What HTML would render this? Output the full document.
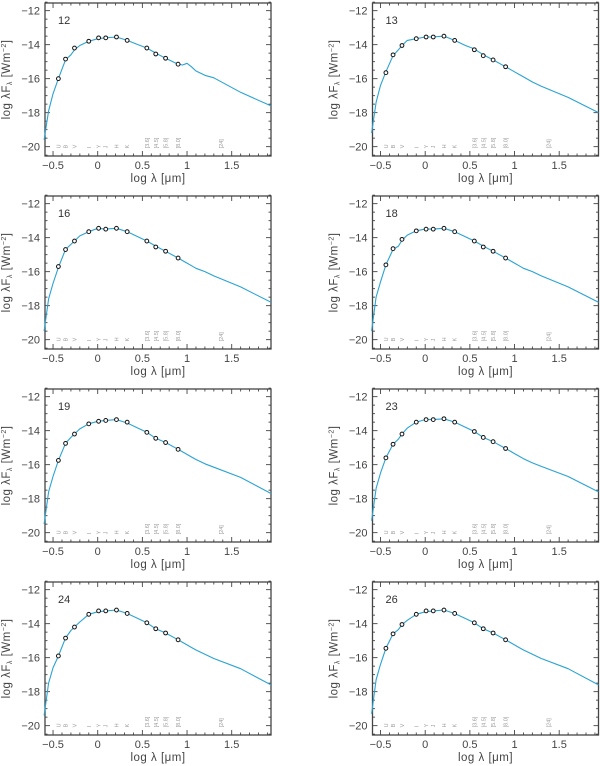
<!DOCTYPE html>
<html><head><meta charset="utf-8"><style>
html,body{margin:0;padding:0;background:#fff;width:600px;height:766px;overflow:hidden}
svg text{font-family:"Liberation Sans",sans-serif}
</style></head><body>
<svg id="fig" width="600" height="766" viewBox="0 0 600 766" xmlns="http://www.w3.org/2000/svg"></svg>
<script>
const panelIds = ["12","13","16","18","19","23","24","26"];
const photX = [-0.44,-0.36,-0.26,-0.1,0.01,0.09,0.21,0.33,0.55,0.65,0.76,0.9];
const phot12 = [-16.0,-14.85,-14.2,-13.8,-13.6,-13.6,-13.55,-13.75,-14.2,-14.55,-14.8,-15.15];
const phot13 = [-15.65,-14.6,-14.05,-13.65,-13.55,-13.55,-13.5,-13.75,-14.3,-14.65,-14.9,-15.3];
const phot16 = [-15.7,-14.7,-14.2,-13.65,-13.45,-13.5,-13.45,-13.65,-14.2,-14.55,-14.8,-15.2];
const phot18 = [-15.6,-14.65,-14.1,-13.6,-13.5,-13.5,-13.45,-13.65,-14.2,-14.55,-14.8,-15.2];
const phot19 = [-15.75,-14.75,-14.2,-13.6,-13.45,-13.4,-13.35,-13.5,-14.1,-14.45,-14.7,-15.1];
const phot23 = [-15.6,-14.8,-14.2,-13.5,-13.35,-13.35,-13.3,-13.5,-14.05,-14.4,-14.65,-15.05];
const phot24 = [-15.9,-14.85,-14.2,-13.45,-13.25,-13.25,-13.2,-13.4,-13.95,-14.3,-14.55,-14.95];
const phot26 = [-15.45,-14.6,-14.05,-13.45,-13.25,-13.25,-13.2,-13.4,-13.95,-14.3,-14.55,-14.95];
const modelX = [-0.6,-0.55,-0.5,-0.44,-0.36,-0.3,-0.26,-0.2,-0.1,0,0.09,0.21,0.33,0.45,0.55,0.65,0.76,0.9,0.95,1.0,1.05,1.1,1.2,1.3,1.6,1.94];
const model12 = [-19.6,-17.9,-16.9,-16.0,-14.9,-14.6,-14.3,-14.05,-13.8,-13.65,-13.6,-13.55,-13.75,-14.0,-14.2,-14.5,-14.8,-15.15,-15.2,-15.1,-15.3,-15.55,-15.8,-15.95,-16.8,-17.6];
const model13 = [-19.2,-17.4,-16.4,-15.6,-14.65,-14.3,-14.05,-13.75,-13.65,-13.55,-13.55,-13.5,-13.75,-14.05,-14.25,-14.6,-14.9,-15.3,-15.45,-15.6,-15.75,-15.9,-16.2,-16.45,-17.1,-18.0];
const model16 = [-19.5,-17.6,-16.7,-15.75,-14.7,-14.4,-14.2,-13.9,-13.65,-13.45,-13.5,-13.45,-13.65,-13.95,-14.2,-14.5,-14.8,-15.2,-15.35,-15.5,-15.65,-15.8,-16.0,-16.25,-16.9,-17.8];
const model18 = [-19.5,-17.5,-16.6,-15.6,-14.7,-14.5,-14.15,-13.85,-13.6,-13.5,-13.5,-13.45,-13.65,-13.95,-14.2,-14.5,-14.8,-15.2,-15.35,-15.5,-15.65,-15.8,-16.0,-16.25,-16.9,-17.8];
const model19 = [-19.5,-17.6,-16.7,-15.75,-14.75,-14.4,-14.2,-13.9,-13.6,-13.45,-13.4,-13.35,-13.55,-13.85,-14.1,-14.45,-14.7,-15.1,-15.25,-15.4,-15.55,-15.7,-15.95,-16.15,-16.75,-17.7];
const model23 = [-19.3,-17.4,-16.5,-15.6,-14.8,-14.5,-14.2,-13.85,-13.5,-13.35,-13.35,-13.3,-13.5,-13.8,-14.05,-14.4,-14.65,-15.05,-15.2,-15.35,-15.5,-15.65,-15.9,-16.1,-16.7,-17.6];
const model24 = [-19.4,-17.5,-16.6,-15.9,-14.85,-14.4,-14.2,-13.9,-13.45,-13.3,-13.25,-13.2,-13.4,-13.7,-13.95,-14.3,-14.55,-14.95,-15.1,-15.25,-15.4,-15.55,-15.8,-16.05,-16.65,-17.6];
const model26 = [-19.3,-17.3,-16.4,-15.45,-14.6,-14.35,-14.05,-13.8,-13.45,-13.3,-13.25,-13.2,-13.4,-13.7,-13.95,-14.3,-14.55,-14.95,-15.1,-15.25,-15.4,-15.55,-15.8,-16.05,-16.65,-17.6];
const xTicks = ["-0.5","0","0.5","1","1.5"];
const yTicks = ["-12","-14","-16","-18","-20"];
const bandNames = ["U","B","V","I","Y","J","H","K","[3.6]","[4.5]","[5.8]","[8.0]","[24]"];
const bandX = [-0.44,-0.36,-0.26,-0.1,0.01,0.09,0.21,0.33,0.55,0.65,0.76,0.9,1.38];

const photAll=[phot12,phot13,phot16,phot18,phot19,phot23,phot24,phot26];
const modelAll=[model12,model13,model16,model18,model19,model23,model24,model26];
const NS="http://www.w3.org/2000/svg";
const svg=document.getElementById('fig');
function mk(tag,attrs,parent){const e=document.createElementNS(NS,tag);for(const k in attrs)e.setAttribute(k,attrs[k]);(parent||svg).appendChild(e);return e;}
const XMIN=-0.59,XMAX=1.94,YTOP=-11.55,YBOT=-20.55,W=226,H=153;
panelIds.forEach((id,i)=>{
  const col=i%2,row=Math.floor(i/2);
  const L=45+col*327.5,T=3+row*193;
  const sx=v=>L+(v-XMIN)/(XMAX-XMIN)*W;
  const sy=v=>T+(YTOP-v)/(YTOP-YBOT)*H;
  const g=mk('g',{});
  
  
  const fr=mk('rect',{x:L,y:T,width:W,height:H,fill:'none',stroke:'#444','stroke-width':1.3},g);
  
  
  for(let k=-6;k<=19;k++){const v=k/10;if(v<XMIN||v>XMAX)continue;const maj=k%5===0;const len=maj?5:2.5;const x=sx(v);
    mk('line',{x1:x,y1:T+H,x2:x,y2:T+H-len,stroke:'#444','stroke-width':0.9},g);
    mk('line',{x1:x,y1:T,x2:x,y2:T+len,stroke:'#444','stroke-width':0.9},g);}
  xTicks.forEach(t=>{const tx=mk('text',{x:sx(parseFloat(t)),y:T+H+13,'font-size':11,'text-anchor':'middle',fill:'#444'},g);tx.textContent=t.replace('-','\u2212');
    
    });
  for(let v=-20.5;v<=-11.5;v+=0.5){const maj=(v%2===0);const len=maj?5:2.5;const y=sy(v);
    mk('line',{x1:L,y1:y,x2:L+len,y2:y,stroke:'#444','stroke-width':0.9},g);
    mk('line',{x1:L+W,y1:y,x2:L+W-len,y2:y,stroke:'#444','stroke-width':0.9},g);}
  yTicks.forEach(t=>{const ty=mk('text',{x:L-5,y:sy(parseFloat(t))+4,'font-size':11,'text-anchor':'end',fill:'#444'},g);ty.textContent=t.replace('-','\u2212');
    
    });
  const xt=mk('text',{x:L+W/2,y:T+H+26,'font-size':11.5,'text-anchor':'middle',fill:'#444','letter-spacing':0.5},g);
  xt.textContent='log \u03bb [\u03bcm]';
  
  
  const yt=mk('text',{x:0,y:0,'font-size':11.5,'text-anchor':'middle',fill:'#444','letter-spacing':0.5,transform:`translate(${L-35},${T+H/2}) rotate(-90)`},g);
  yt.innerHTML='log \u03bbF<tspan font-size="7" dy="2">\u03bb</tspan><tspan dy="-2"> [Wm</tspan><tspan font-size="7" dy="-4">\u22122</tspan><tspan dy="4">]</tspan>';
  
  
  const lb=mk('text',{x:L+13,y:T+21,'font-size':11,fill:'#333'},g);lb.textContent=id;
  
  
  bandNames.forEach((b,j)=>{const bx=sx(bandX[j]);const by=sy(-20.1);
    const bt=mk('text',{x:0,y:0,'font-size':5.5,'text-anchor':'start',fill:'#999',transform:`translate(${bx+2},${by}) rotate(-90)`},g);bt.textContent=b;
    
    });
  const mdl=modelAll[i];
  const pl=mk('polyline',{points:modelX.map((x,j)=>sx(x).toFixed(1)+','+sy(mdl[j]).toFixed(1)).join(' '),fill:'none',stroke:'#2aa3d2','stroke-width':1.1,'stroke-linejoin':'round'},g);
  
  
  const ph=photAll[i];
  photX.forEach((x,j)=>{const c=mk('circle',{cx:sx(x),cy:sy(ph[j]),r:1.9,fill:'#fff',stroke:'#111','stroke-width':1},g);
    
    });
});
</script>
</body></html>
